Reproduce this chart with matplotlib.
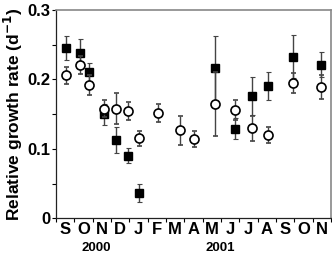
import numpy as np
import matplotlib
matplotlib.use("Agg")
import matplotlib.pyplot as plt
from matplotlib.ticker import FixedLocator, NullFormatter

plt.rcParams['font.family'] = ['Liberation Sans', 'DejaVu Sans']
plt.rcParams['font.weight'] = 'bold'

# month position (0 = start of Sep 2000)
sq_x = [0.53, 1.31, 1.82, 2.63, 3.27, 3.94, 4.54, 8.67, 9.77, 10.68, 11.58, 12.95, 14.46]
sq_y = [0.245, 0.238, 0.211, 0.150, 0.113, 0.090, 0.036, 0.216, 0.129, 0.176, 0.191, 0.233, 0.221]
sq_err = [0.017, 0.020, 0.013, 0.015, 0.019, 0.011, 0.013, 0.047, 0.015, 0.027, 0.020, 0.031, 0.018]

ci_x = [0.53, 1.31, 1.82, 2.63, 3.27, 3.94, 4.54, 5.55, 6.78, 7.54, 8.67, 9.77, 10.68, 11.58, 12.95, 14.46]
ci_y = [0.206, 0.221, 0.192, 0.158, 0.158, 0.155, 0.115, 0.151, 0.127, 0.114, 0.165, 0.156, 0.130, 0.120, 0.195, 0.189]
ci_err = [0.012, 0.013, 0.015, 0.012, 0.022, 0.013, 0.011, 0.013, 0.021, 0.012, 0.046, 0.015, 0.018, 0.012, 0.014, 0.017]

months = ['S', 'O', 'N', 'D', 'J', 'F', 'M', 'A', 'M', 'J', 'J', 'A', 'S', 'O', 'N']
years = ['2000', '2001']
year_pos = [2.2, 8.95]

fig = plt.figure(figsize=(3.32, 2.57), dpi=100)
ax = fig.add_axes([0.169, 0.1506, 0.828, 0.8104])

ax.errorbar(sq_x, sq_y, yerr=sq_err, fmt='s', ms=5.5, mfc='black', mec='black',
            ecolor='#444444', elinewidth=1, capsize=1.8, capthick=0.8, zorder=2)
ax.errorbar(ci_x, ci_y, yerr=ci_err, fmt='o', ms=6.5, mfc='white', mec='black', mew=1.2,
            ecolor='#444444', elinewidth=1, capsize=1.8, capthick=0.8, zorder=3)

ax.set_xlim(0, 15)
ax.set_ylim(0, 0.3)

ax.set_yticks([0, 0.1, 0.2, 0.3])
ax.set_yticklabels(['0', '0.1', '0.2', '0.3'], fontsize=12, fontweight='bold')
ax.yaxis.set_minor_locator(FixedLocator([0.05, 0.15, 0.25]))
ax.tick_params(axis='y', which='both', direction='out', length=3, width=0.8, pad=1)

ax.set_xticks(np.arange(15) + 0.5)
ax.set_xticklabels(months, fontsize=12, fontweight='bold')
ax.xaxis.set_minor_locator(FixedLocator(np.arange(0, 16)))
ax.xaxis.set_minor_formatter(NullFormatter())
ax.tick_params(axis='x', which='major', length=0, pad=3)
ax.tick_params(axis='x', which='minor', direction='out', length=3, width=0.8)

for yl, yp in zip(years, year_pos):
    ax.text(yp, -0.034, yl, ha='center', va='top', fontsize=9.5, fontweight='bold',
            transform=ax.transData, clip_on=False)

ax.set_ylabel('Relative growth rate (d$^{\\mathbf{-1}}$)', fontsize=12.5, fontweight='bold', labelpad=2)

for s in ['top', 'right']:
    ax.spines[s].set_color('#888888')
    ax.spines[s].set_linewidth(1.2)
for s in ['left', 'bottom']:
    ax.spines[s].set_color('#222222')
    ax.spines[s].set_linewidth(0.9)

fig.savefig('out.png', dpi=100)
